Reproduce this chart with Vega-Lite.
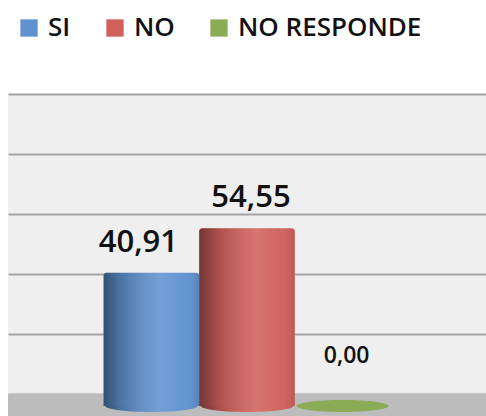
{
  "$schema": "https://vega.github.io/schema/vega-lite/v6.json",
  "width": 478,
  "height": 322,
  "autosize": {"type": "none"},
  "padding": {"left": 8, "top": 94, "right": 0, "bottom": 0},
  "background": "white",
  "config": {
    "view": {"fill": "#efefef", "stroke": null},
    "locale": {"number": {"decimal": ",", "thousands": ".", "grouping": [3], "currency": ["", "€"]}},
    "font": "Open Sans"
  },
  "data": {
    "values": [
      {"respuesta": "SI", "valor": 40.91},
      {"respuesta": "NO", "valor": 54.55},
      {"respuesta": "NO RESPONDE", "valor": 0}
    ]
  },
  "layer": [
    {
      "data": {"values": [{"piso": "piso"}]},
      "mark": {"type": "rect", "fill": "#bcbcbc"},
      "encoding": {
        "y": {
          "datum": 0,
          "type": "quantitative",
          "scale": {"domain": [-7.33, 100], "nice": false, "zero": false},
          "axis": {
            "grid": true,
            "values": [0, 20, 40, 60, 80, 100],
            "labels": false,
            "ticks": false,
            "domain": false,
            "title": null,
            "gridColor": "#a3a3a3",
            "gridWidth": 2
          }
        },
        "y2": {"datum": -7.33}
      }
    },
    {
      "encoding": {
        "x": {
          "field": "respuesta",
          "type": "nominal",
          "sort": ["SI", "NO", "NO RESPONDE"],
          "scale": {"paddingInner": 0, "paddingOuter": 1.1, "align": 0.5},
          "axis": null
        }
      },
      "layer": [
        {
          "mark": {"type": "point", "filled": true, "opacity": 1, "size": 8450, "shape": "M -1 0 A 1 0.13 0 1 0 1 0 A 1 0.13 0 1 0 -1 0 Z"},
          "encoding": {
            "y": {"datum": 0, "type": "quantitative", "scale": {"domain": [-3.07, 95.71], "nice": false, "zero": false}, "axis": null},
            "color": {
              "field": "respuesta",
              "type": "nominal",
              "scale": {"domain": ["SI", "NO", "NO RESPONDE"], "range": ["#5f92d0", "#d1605c", "#8cab55"]},
              "legend": {
                "orient": "none",
                "legendX": 8,
                "legendY": -79,
                "direction": "horizontal",
                "title": null,
                "symbolType": "square",
                "symbolSize": 300,
                "symbolStrokeWidth": 0,
                "symbolOpacity": 1,
                "labelFontSize": 26,
                "labelFont": "Open Sans",
                "labelFontWeight": 600,
                "labelColor": "#111111",
                "labelOffset": 6,
                "labelLimit": 400,
                "columnPadding": 31,
                "padding": 0
              }
            }
          }
        },
        {
          "mark": {
            "type": "point", "filled": true, "opacity": 1, "size": 8450,
            "shape": "M -1 0 A 1 0.13 0 1 0 1 0 A 1 0.13 0 1 0 -1 0 Z",
            "fill": {"gradient": "linear", "x1": 0, "x2": 1, "y1": 0, "y2": 0, "stops": [
              {"offset": 0, "color": "rgba(0,0,0,0.45)"},
              {"offset": 0.18, "color": "rgba(0,0,0,0.2)"},
              {"offset": 0.6, "color": "rgba(255,255,255,0.12)"},
              {"offset": 0.85, "color": "rgba(255,255,255,0.03)"},
              {"offset": 1, "color": "rgba(0,0,0,0.1)"}
            ]}
          },
          "transform": [{"filter": "datum.valor > 0"}],
          "encoding": {
            "y": {"datum": 0, "type": "quantitative", "scale": {"domain": [-3.07, 95.71], "nice": false, "zero": false}, "axis": null}
          }
        },
        {
          "mark": {"type": "bar", "cornerRadiusTopLeft": 3, "cornerRadiusTopRight": 3},
          "encoding": {
            "y": {"field": "valor", "type": "quantitative", "scale": {"domain": [-3.07, 95.71], "nice": false, "zero": false}, "axis": null},
            "y2": {"datum": 0},
            "color": {"field": "respuesta", "type": "nominal"}
          }
        },
        {
          "mark": {
            "type": "bar", "cornerRadiusTopLeft": 3, "cornerRadiusTopRight": 3,
            "fill": {"gradient": "linear", "x1": 0, "x2": 1, "y1": 0, "y2": 0, "stops": [
              {"offset": 0, "color": "rgba(0,0,0,0.45)"},
              {"offset": 0.18, "color": "rgba(0,0,0,0.2)"},
              {"offset": 0.6, "color": "rgba(255,255,255,0.12)"},
              {"offset": 0.85, "color": "rgba(255,255,255,0.03)"},
              {"offset": 1, "color": "rgba(0,0,0,0.1)"}
            ]}
          },
          "encoding": {
            "y": {"field": "valor", "type": "quantitative", "scale": {"domain": [-3.07, 95.71], "nice": false, "zero": false}, "axis": null},
            "y2": {"datum": 0}
          }
        },
        {
          "transform": [{"filter": "datum.respuesta == 'SI'"}],
          "mark": {"type": "text", "font": "Open Sans", "fontSize": 31, "fontWeight": 600, "color": "#111111", "baseline": "middle", "dy": -30, "dx": -13},
          "encoding": {
            "y": {"field": "valor", "type": "quantitative", "scale": {"domain": [-3.07, 95.71], "nice": false, "zero": false}, "axis": null},
            "text": {"field": "valor", "type": "quantitative", "format": ".2f"}
          }
        },
        {
          "transform": [{"filter": "datum.respuesta == 'NO'"}],
          "mark": {"type": "text", "font": "Open Sans", "fontSize": 31, "fontWeight": 600, "color": "#111111", "baseline": "middle", "dy": -30, "dx": 4},
          "encoding": {
            "y": {"field": "valor", "type": "quantitative", "scale": {"domain": [-3.07, 95.71], "nice": false, "zero": false}, "axis": null},
            "text": {"field": "valor", "type": "quantitative", "format": ".2f"}
          }
        },
        {
          "transform": [{"filter": "datum.respuesta == 'NO RESPONDE'"}],
          "mark": {"type": "text", "font": "Open Sans", "fontSize": 23, "fontWeight": 600, "color": "#111111", "baseline": "middle", "dy": -50, "dx": 4},
          "encoding": {
            "y": {"field": "valor", "type": "quantitative", "scale": {"domain": [-3.07, 95.71], "nice": false, "zero": false}, "axis": null},
            "text": {"field": "valor", "type": "quantitative", "format": ".2f"}
          }
        }
      ]
    }
  ],
  "resolve": {"scale": {"y": "independent"}}
}
